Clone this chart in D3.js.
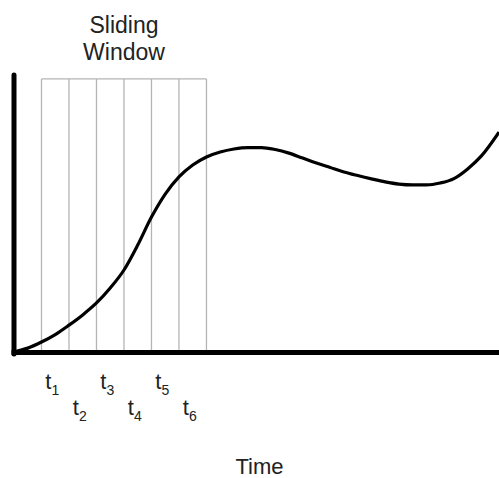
<!DOCTYPE html>
<html>
<head>
<meta charset="utf-8">
<script src="https://cdn.jsdelivr.net/npm/d3@7"></script>
<style>
  html, body { margin: 0; padding: 0; background: #fff; }
  svg { display: block; }
  text { font-family: "Liberation Sans", Arial, sans-serif; fill: #222; }
</style>
</head>
<body>
<svg id="chart" width="499" height="478"></svg>
<script>
// ---- data ----
const timeSteps = [0, 0.5, 1, 1.5, 2, 2.5, 3, 3.5, 4, 4.5, 5, 5.5, 6, 6.5, 7, 7.5, 8, 8.5, 9, 9.5, 10, 10.5, 11, 11.5, 12, 12.5, 13, 13.5, 14, 14.5, 15, 15.5, 16, 16.5, 17, 17.64];
const signal    = [0, 1.4, 3.6, 6.3, 9.7, 13.4, 17.7, 23.1, 29.6, 38.6, 48.7, 57.0, 63.2, 67.5, 70.4, 72.2, 73.3, 73.8, 73.8, 73.1, 71.8, 70.0, 68.2, 66.6, 65.0, 63.7, 62.5, 61.4, 60.6, 60.3, 60.3, 61.0, 62.6, 66.1, 70.8, 79.4];
const windowBounds = [1, 2, 3, 4, 5, 6, 7];
const tickLabels = ["1", "2", "3", "4", "5", "6"];
const windowTitle = ["Sliding", "Window"];
const xTitle = "Time";

// ---- scales ----
const svg = d3.select("#chart");
const x = d3.scaleLinear().domain([0, 17.64]).range([14, 499]);
const y = d3.scaleLinear().domain([0, 100]).range([352, 75]);

// ---- sliding window grid ----
const win = svg.append("g");
win.selectAll("line.v").data(windowBounds).join("line")
  .attr("class", "v")
  .attr("x1", d => x(d)).attr("x2", d => x(d))
  .attr("y1", y(98.6)).attr("y2", y(0))
  .attr("stroke", "#b4b4b4").attr("stroke-width", 1.3);
win.append("line")
  .attr("x1", x(windowBounds[0])).attr("x2", x(windowBounds[windowBounds.length - 1]))
  .attr("y1", y(98.6)).attr("y2", y(98.6))
  .attr("stroke", "#b4b4b4").attr("stroke-width", 1.3);

// ---- curve ----
const line = d3.line()
  .x((d, i) => x(timeSteps[i]))
  .y(d => y(d))
  .curve(d3.curveMonotoneX);
svg.append("path")
  .datum(signal)
  .attr("d", line)
  .attr("fill", "none")
  .attr("stroke", "#000")
  .attr("stroke-width", 3.2);

// ---- axes ----
svg.append("line")
  .attr("x1", x(0)).attr("x2", x(0))
  .attr("y1", y(100)).attr("y2", y(0) + 2)
  .attr("stroke", "#000").attr("stroke-width", 5).attr("stroke-linecap", "round");
svg.append("line")
  .attr("x1", x(0) - 2.5).attr("x2", 499)
  .attr("y1", y(0) + 0.5).attr("y2", y(0) + 0.5)
  .attr("stroke", "#000").attr("stroke-width", 5);

// ---- tick labels t_i ----
const lbl = svg.append("g").selectAll("text").data(tickLabels).join("text")
  .attr("x", (d, i) => x(windowBounds[i] + 0.5) - 3)
  .attr("y", (d, i) => i % 2 === 0 ? 389 : 415)
  .attr("text-anchor", "middle")
  .style("font-size", "22px");
lbl.append("tspan").text("t");
lbl.append("tspan").attr("dy", 6).style("font-size", "14px").text(d => d);

// ---- titles ----
svg.append("g").selectAll("text").data(windowTitle).join("text")
  .attr("x", x((windowBounds[0] + windowBounds[windowBounds.length - 1]) / 2))
  .attr("y", (d, i) => 33 + i * 27)
  .attr("text-anchor", "middle")
  .style("font-size", "23px")
  .text(d => d);

svg.append("text")
  .attr("x", 259.5).attr("y", 474)
  .attr("text-anchor", "middle")
  .style("font-size", "22px")
  .text(xTitle);
</script>
</body>
</html>
